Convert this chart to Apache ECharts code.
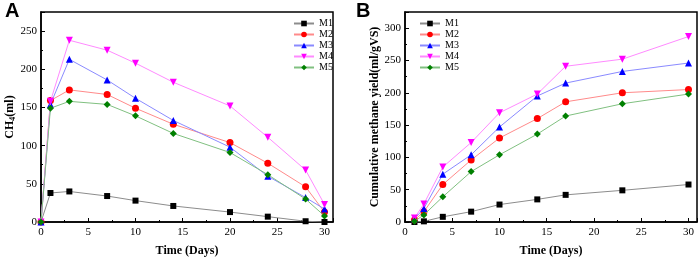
<!DOCTYPE html>
<html><head><meta charset="utf-8">
<script src="https://cdn.jsdelivr.net/npm/echarts@6/dist/echarts.min.js"></script>
<style>html,body{margin:0;padding:0;background:#fff}#c{width:699px;height:262px}</style>
</head><body><div id="c"></div>
<script>
// Panel A: daily CH4 production
const daysA = [0, 1, 3, 7, 10, 14, 20, 24, 28, 30];
const A_M1 = [0, 38, 40, 34, 28, 21, 13, 7, 1, 0];
const A_M2 = [0, 159, 173, 167, 149, 128, 104, 77, 46, 13];
const A_M3 = [0, 154, 213, 186, 162, 133, 98, 60, 32, 17];
const A_M4 = [0, 158, 238, 225, 208, 183, 152, 111, 68, 23];
const A_M5 = [0, 149, 158, 154, 139, 116, 91, 62, 30, 8];
// Panel B: cumulative methane yield
const daysB = [1, 2, 4, 7, 10, 14, 17, 23, 30];
const B_M1 = [0, 1, 8, 16, 27, 35, 42, 49, 58];
const B_M2 = [3, 16, 58, 96, 130, 160, 186, 200, 205];
const B_M3 = [5, 21, 74, 104, 147, 195, 215, 233, 246];
const B_M4 = [6, 28, 85, 123, 169, 198, 241, 252, 287];
const B_M5 = [1, 11, 39, 78, 104, 136, 164, 183, 198];

const names = ['M1', 'M2', 'M3', 'M4', 'M5'];
const markerColors = ['#000000', '#ff0000', '#0000ff', '#ff00ff', '#008000'];
const lineColors = ['#8c8c8c', '#ff8a8a', '#8a8aff', '#ff8aff', '#80c080'];
const symbols = ['rect', 'circle', 'triangle', 'triangle', 'diamond'];
const rotates = [0, 0, 0, 180, 0];
const sizes = [6, 7, 7, 7, 7];

const FONT = 'Liberation Serif';
const zip = (xs, ys) => xs.map((x, i) => [x, ys[i]]);

function mkSeries(idx, dataSets, xs) {
  return dataSets.map((ys, i) => ({
    type: 'line', name: names[i], xAxisIndex: idx, yAxisIndex: idx,
    data: zip(xs, ys), symbol: symbols[i], symbolRotate: rotates[i], symbolSize: sizes[i],
    itemStyle: { color: markerColors[i] },
    lineStyle: { color: lineColors[i], width: 1 },
    emphasis: { disabled: true }, z: 3 + i
  }));
}

function xAxis(idx) {
  return {
    type: 'value', gridIndex: idx, min: 0, max: 30.9, interval: 5,
    name: 'Time (Days)', nameLocation: 'middle', nameGap: 23,
    nameTextStyle: { fontFamily: FONT, fontWeight: 'bold', fontSize: 12, color: '#000' },
    axisLine: { lineStyle: { color: '#000', width: 1.5 } },
    axisTick: { inside: true, length: 4, lineStyle: { color: '#000' } },
    minorTick: { show: true, splitNumber: 2, length: 2, lineStyle: { color: '#000' } },
    axisLabel: { fontFamily: FONT, fontSize: 11, color: '#000', margin: 5, showMaxLabel: false },
    splitLine: { show: false }
  };
}
function yAxis(idx, max, name, gap) {
  return {
    type: 'value', gridIndex: idx, min: 0, max: max, interval: 50,
    name: name, nameLocation: 'middle', nameGap: gap,
    nameTextStyle: {
      fontFamily: FONT, fontWeight: 'bold', fontSize: 12, color: '#000',
      rich: {
        a: { fontFamily: FONT, fontWeight: 'bold', fontSize: 12, color: '#000' },
        s: { fontFamily: FONT, fontWeight: 'bold', fontSize: 8, color: '#000', padding: [6, 0, 0, 0] }
      }
    },
    axisLine: { lineStyle: { color: '#000', width: 1.5 } },
    axisTick: { inside: true, length: 4, lineStyle: { color: '#000' } },
    minorTick: { show: true, splitNumber: 2, length: 2, lineStyle: { color: '#000' } },
    axisLabel: { fontFamily: FONT, fontSize: 11, color: '#000', margin: 4, showMaxLabel: false },
    splitLine: { show: false }
  };
}
function legend(left) {
  return {
    data: names, left: left, top: 13, orient: 'vertical',
    itemWidth: 20, itemHeight: 7, itemGap: 0,
    textStyle: { fontFamily: FONT, fontSize: 10, color: '#000', lineHeight: 11 },
    selectedMode: false
  };
}

const chart = echarts.init(document.getElementById('c'), null, { renderer: 'canvas' });
chart.setOption({
  animation: false,
  backgroundColor: '#fff',
  title: [
    { text: 'A', left: 0, top: -4, textStyle: { fontFamily: 'Liberation Sans', fontWeight: 'bold', fontSize: 20, color: '#000' } },
    { text: 'B', left: 351, top: -4, textStyle: { fontFamily: 'Liberation Sans', fontWeight: 'bold', fontSize: 20, color: '#000' } }
  ],
  legend: [legend(288), legend(414)],
  grid: [
    { left: 41, top: 12, width: 292, height: 216, show: true, borderColor: '#000', borderWidth: 1.5 },
    { left: 405, top: 12, width: 292, height: 216, show: true, borderColor: '#000', borderWidth: 1.5 }
  ],
  xAxis: [xAxis(0), xAxis(1)],
  yAxis: [
    yAxis(0, 275, '{a|CH}{s|4}{a|(ml)}', 23),
    yAxis(1, 325, 'Cumulative methane yield(ml/gVS)', 23)
  ],
  series: mkSeries(0, [A_M1, A_M2, A_M3, A_M4, A_M5], daysA)
    .concat(mkSeries(1, [B_M1, B_M2, B_M3, B_M4, B_M5], daysB))
});
</script></body></html>
